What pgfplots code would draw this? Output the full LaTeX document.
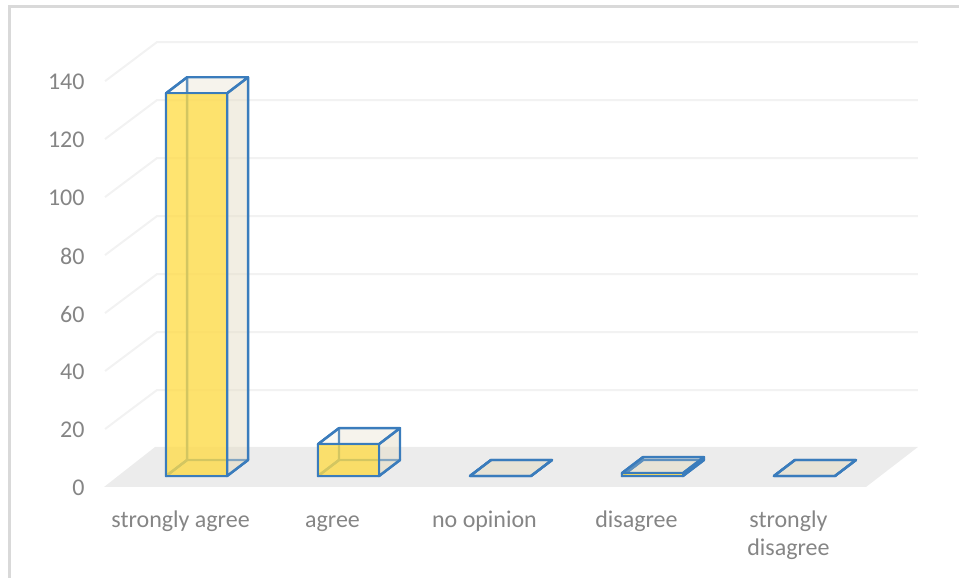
\documentclass[border=0pt]{standalone}
\usepackage{fontspec}
\setmainfont{Carlito}
\usepackage{pgfplots}
\pgfplotsset{compat=1.18}

\definecolor{labelgray}{HTML}{858585}
\definecolor{gridgray}{HTML}{F2F2F2}
\definecolor{floorgray}{HTML}{ECECEC}
\definecolor{framegray}{HTML}{D9D9D9}
\definecolor{barblue}{HTML}{3A7CBC}
\definecolor{baryellow}{RGB}{255,220,72}
\definecolor{barside}{RGB}{230,223,202}

% one wall line: front end at the tick, back end on the far wall
\newcommand{\wallline}[1]{%
  \pgfmathsetmacro{\yf}{#1}%
  \pgfmathsetmacro{\yb}{#1+13.45}%
  \addplot[gridgray, line width=2pt] coordinates {(-0.5,\yf) (-0.158,\yb) (4.849,\yb)};
}

% one box: #1 category, #2 value
\newcommand{\boxbar}[2]{%
  \pgfmathsetmacro{\xa}{#1-0.0987}%
  \pgfmathsetmacro{\xb}{#1+0.3026}%
  \pgfmathsetmacro{\xc}{#1+0.0395}%
  \pgfmathsetmacro{\xd}{#1+0.4408}%
  \pgfmathsetmacro{\ya}{3.79}%
  \pgfmathsetmacro{\yb}{3.79+#2}%
  \pgfmathsetmacro{\yc}{9.31}%
  \pgfmathsetmacro{\yd}{9.31+#2}%
  \addplot[boxedge, fill=barside, fill opacity=.5] coordinates {(\xa,\ya) (\xb,\ya) (\xd,\yc) (\xc,\yc)} -- cycle;
  \addplot[boxedge, fill=barside, fill opacity=.2] coordinates {(\xc,\yc) (\xd,\yc) (\xd,\yd) (\xc,\yd)} -- cycle;
  \addplot[boxedge] coordinates {(\xa,\ya) (\xc,\yc) (\xc,\yd) (\xa,\yb)} -- cycle;
  \addplot[boxedge, fill=barside, fill opacity=.42] coordinates {(\xb,\ya) (\xd,\yc) (\xd,\yd) (\xb,\yb)} -- cycle;
  \addplot[boxedge, fill=barside, fill opacity=.2] coordinates {(\xa,\yb) (\xb,\yb) (\xd,\yd) (\xc,\yd)} -- cycle;
  \addplot[boxedge, fill=baryellow, fill opacity=.78] coordinates {(\xa,\ya) (\xb,\ya) (\xb,\yb) (\xa,\yb)} -- cycle;
}

\tikzset{boxedge/.style={draw=barblue, line width=2.4pt, line join=round}}

\begin{document}
\begin{tikzpicture}
\begin{axis}[
    scale only axis,
    width=959pt, height=578pt,
    xmin=-1.1908, xmax=5.1184,
    ymin=-31.38, ymax=167.93,
    axis line style={draw=none},
    major tick length=0pt,
    xtick={0,1,2,3,4},
    xticklabels={\strut strongly agree,\strut agree,\strut no opinion,\strut disagree,{\strut strongly\\\strut disagree}},
    ytick={0,20,40,60,80,100,120,140},
    tick label style={text=labelgray, font=\fontsize{24}{28}\selectfont},
    xticklabel style={align=center, anchor=north, yshift=74pt, xshift=-0.5pt},
    yticklabel style={anchor=east, xshift=88pt, yshift=-1pt},
    /pgf/number format/assume math mode=true,
]
\wallline{20}
\wallline{40}
\wallline{60}
\wallline{80}
\wallline{100}
\wallline{120}
\wallline{140}
% floor
\addplot[draw=none, fill=floorgray] coordinates {(-0.507,0) (4.507,0) (4.849,13.8) (-0.171,13.8)} -- cycle;
\boxbar{0}{132}
\boxbar{1}{11}
\boxbar{2}{0}
\boxbar{3}{1}
\boxbar{4}{0}
% outer frame
\draw[framegray, line width=3pt] (rel axis cs:0.0094,0) -- (rel axis cs:0.0094,0.9896) -- (rel axis cs:1,0.9896);
\end{axis}
\end{tikzpicture}
\end{document}
